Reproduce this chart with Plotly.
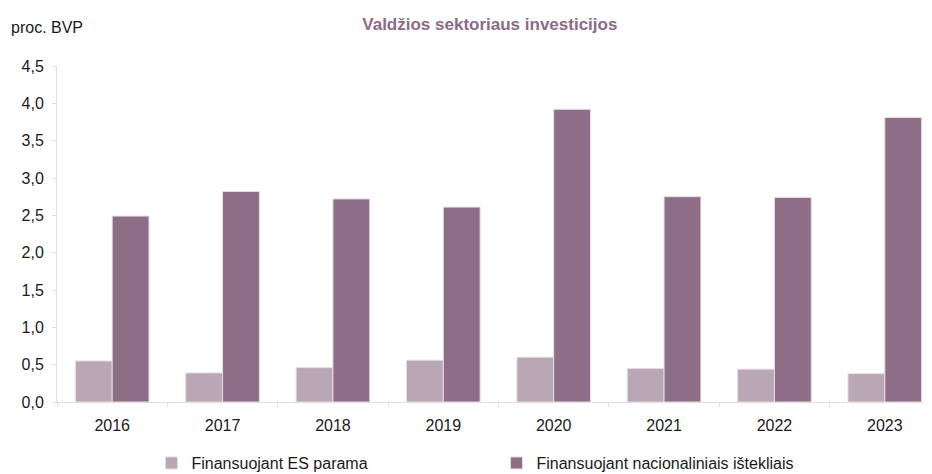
import plotly.graph_objects as go

years = ["2016", "2017", "2018", "2019", "2020", "2021", "2022", "2023"]
es_parama = [0.55, 0.39, 0.46, 0.56, 0.60, 0.45, 0.44, 0.38]
nacionaliniai = [2.49, 2.82, 2.72, 2.61, 3.92, 2.75, 2.74, 3.81]

fig = go.Figure()
fig.add_trace(go.Bar(
    x=years, y=es_parama, name="Finansuojant ES parama",
    marker=dict(color="#B9A7B6", line=dict(color="#E6DDE4", width=1)),
))
fig.add_trace(go.Bar(
    x=years, y=nacionaliniai, name="Finansuojant nacionaliniais ištekliais",
    marker=dict(color="#8D6E86", line=dict(color="#E6DDE4", width=1)),
))

# page body adds an 8px offset, margins compensate for it;
# the plot area runs slightly past the right edge, as in the source chart
fig.update_layout(
    width=932, height=474,
    margin=dict(l=49, r=0, t=58, b=80),
    paper_bgcolor="white", plot_bgcolor="white",
    separators=", ",
    font=dict(family="Liberation Sans, Arial, sans-serif", size=16, color="#1a1a1a"),
    barmode="group", bargap=0.333, bargroupgap=0,
    title=dict(
        text="<b>Valdžios sektoriaus investicijos</b>",
        x=0.517, xanchor="center", y=0.966, yanchor="middle",
        font=dict(size=17, color="#8B6B87"),
    ),
    showlegend=True,
    legend=dict(
        orientation="h", x=0.107, xanchor="left",
        yref="container", y=0.040, yanchor="middle",
        entrywidth=300, entrywidthmode="pixels",
        font=dict(size=16), itemwidth=30, tracegroupgap=0,
    ),
    annotations=[dict(
        text="proc. BVP", xref="paper", yref="paper",
        x=-0.054, y=1.116, xanchor="left", yanchor="middle",
        showarrow=False, font=dict(size=16),
    )],
)
fig.update_yaxes(
    range=[0, 4.5], dtick=0.5, tickformat=".1f",
    showgrid=False, zeroline=False, automargin=False,
    showline=True, linecolor="#E3DCE1", linewidth=1,
    ticks="outside", ticklen=4, tickcolor="#E3DCE1", ticklabelstandoff=5,
)
fig.update_xaxes(
    showgrid=False, showline=True, linecolor="#E3DCE1", linewidth=1, automargin=False,
    ticks="outside", ticklen=4, tickcolor="#E3DCE1", tickson="boundaries",
    ticklabelstandoff=9,
)

fig.write_html("out.html")
